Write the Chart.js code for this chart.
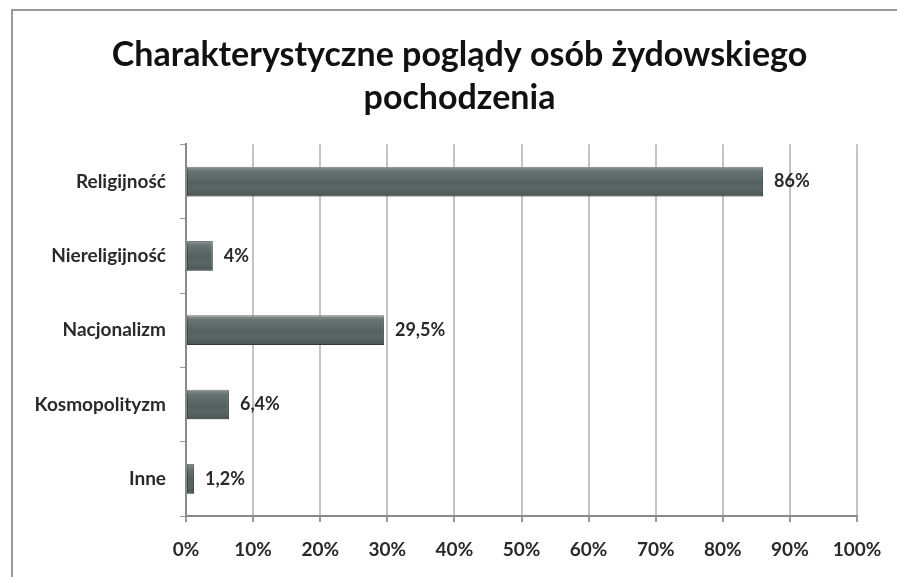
<!DOCTYPE html>
<html>
<head>
<meta charset="utf-8">
<script src="https://cdn.jsdelivr.net/npm/chart.js@4"></script>
<style>
    html, body { margin: 0; padding: 0; background: #fff; overflow: hidden; }
    #wrap { position: absolute; left: 12px; top: 10px; width: 895px; height: 567px; }
    #frame { position: absolute; left: 11px; top: 9px; width: 950px; height: 650px;
             border-left: 2px solid #9a9a9a; border-top: 2px solid #9a9a9a; pointer-events: none; }
</style>
</head>
<body>
<div id="wrap"><canvas id="chart-1"></canvas></div>
<div id="frame"></div>
<script>
const title = ['Charakterystyczne poglądy osób żydowskiego', 'pochodzenia'];

const categories = [
    'Religijność',
    'Niereligijność',
    'Nacjonalizm',
    'Kosmopolityzm',
    'Inne',
];

const values = [86, 4, 29.5, 6.4, 1.2];

const xTicks = [0, 10, 20, 30, 40, 50, 60, 70, 80, 90, 100];

const fmt = v => String(v).replace('.', ',') + '%';

// bevel look on each bar
const bevel = {
    id: 'bevel',
    afterDatasetsDraw(chart) {
        const ctx = chart.ctx;
        chart.getDatasetMeta(0).data.forEach(bar => {
            const top = bar.y - bar.height / 2;
            const left = Math.min(bar.x, bar.base);
            const w = Math.abs(bar.x - bar.base);
            const g = ctx.createLinearGradient(0, top, 0, top + bar.height);
            g.addColorStop(0, 'rgba(255,255,255,0.35)');
            g.addColorStop(0.15, 'rgba(255,255,255,0.12)');
            g.addColorStop(0.55, 'rgba(255,255,255,0)');
            g.addColorStop(1, 'rgba(0,0,0,0.18)');
            ctx.save();
            ctx.fillStyle = g;
            ctx.fillRect(left, top, w, bar.height);
            ctx.restore();
        });
    }
};

const valueLabels = {
    id: 'valueLabels',
    afterDatasetsDraw(chart) {
        const ctx = chart.ctx;
        ctx.save();
        ctx.font = 'bold 18px Lato';
        ctx.fillStyle = '#2a2a2a';
        ctx.textAlign = 'left';
        ctx.textBaseline = 'middle';
        chart.getDatasetMeta(0).data.forEach((bar, i) => {
            ctx.fillText(fmt(values[i]), bar.x + 11, bar.y);
        });
        ctx.restore();
    }
};

const data_1 = {
    labels: categories,
    datasets: [
        {
            label: 'Poglądy',
            backgroundColor: '#536061',
            borderColor: '#3a4344',
            borderWidth: 1,
            borderSkipped: false,
            barPercentage: 0.4,
            categoryPercentage: 1,
            data: values,
        }
    ]
};

const options = {
    indexAxis: 'y',
    animation: false,
    responsive: true,
    maintainAspectRatio: false,
    layout: {
        padding: 0
    },
    scales: {
        x: {
            min: 0,
            max: 100,
            afterBuildTicks: s => { s.ticks = xTicks.map(v => ({ value: v })); },
            afterFit: s => { s.height = 61; },
            grid: {
                color: '#c4c4c4',
                lineWidth: 2,
                tickLength: 6,
                tickColor: '#9a9a9a',
            },
            border: { color: '#8a8a8a', width: 2 },
            ticks: {
                padding: 16,
                color: '#2a2a2a',
                font: { family: 'Lato', size: 19, weight: 'bold' },
                callback: v => v + '%',
            }
        },
        y: {
            afterFit: s => { s.width = 174; },
            grid: {
                drawOnChartArea: false,
                tickLength: 6,
                tickColor: '#9a9a9a',
            },
            border: { color: '#8a8a8a', width: 2 },
            ticks: {
                padding: 14,
                color: '#2a2a2a',
                font: { family: 'Lato', size: 19, weight: 'bold' },
            }
        },
        // empty right-hand axis that only reserves space, so the title stays centred on the frame
        spacer: {
            type: 'linear',
            position: 'right',
            axis: 'y',
            afterFit: s => { s.width = 50; },
            grid: { display: false },
            border: { display: false },
            ticks: { display: false },
        }
    },
    plugins: {
        legend: { display: false },
        tooltip: { enabled: false },
        title: {
            display: true,
            text: title,
            color: '#111',
            font: { family: 'Lato', size: 34, weight: 'bold', lineHeight: 1.27 },
            padding: { top: 23, bottom: 25 },
        }
    }
};

const chart_1 = new Chart(
    document.getElementById('chart-1'),
    { type: 'bar', data: data_1, options: options, plugins: [bevel, valueLabels] }
);
</script>
</body>
</html>
